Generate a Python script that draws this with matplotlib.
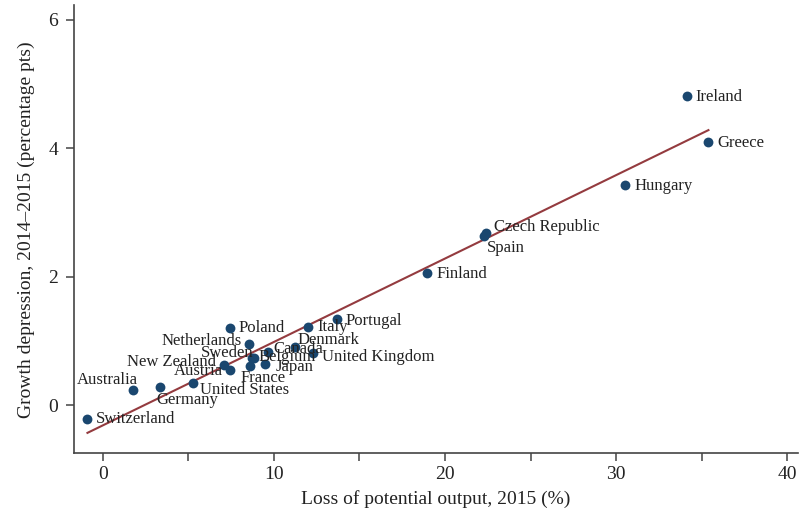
import numpy as np
import matplotlib
matplotlib.use('Agg')
import matplotlib.pyplot as plt

countries = ["Switzerland", "Australia", "Germany", "United States", "New Zealand",
             "Austria", "Poland", "Netherlands", "Sweden", "Belgium", "France",
             "Japan", "Canada", "Denmark", "United Kingdom", "Italy", "Portugal",
             "Finland", "Spain", "Czech Republic", "Hungary", "Greece", "Ireland"]
loss_potential = [-0.89, 1.79, 3.34, 5.29, 7.07,
                  7.46, 7.41, 8.53, 8.75, 8.86, 8.62,
                  9.50, 9.68, 11.25, 12.30, 11.99, 13.69,
                  18.97, 22.27, 22.39, 30.50, 35.39, 34.13]
growth_depression = [-0.22, 0.23, 0.28, 0.35, 0.62,
                     0.55, 1.21, 0.95, 0.73, 0.74, 0.61,
                     0.64, 0.83, 0.91, 0.81, 1.22, 1.35,
                     2.06, 2.63, 2.69, 3.43, 4.10, 4.81]

# label placement: (dx, dy) in pixels, horizontal alignment
label_pos = {
    "Switzerland": (8, 0, "left"),
    "Australia": (5, 10, "right"),
    "Germany": (-3, -13, "left"),
    "United States": (7, -7, "left"),
    "New Zealand": (-8, 3, "right"),
    "Austria": (-8, -1, "right"),
    "Poland": (9, 0, "left"),
    "Netherlands": (-7, 3, "right"),
    "Sweden": (1, 5, "right"),
    "Belgium": (4, 1, "left"),
    "France": (-10, -12, "left"),
    "Japan": (10, -3, "left"),
    "Canada": (5, 3, "left"),
    "Denmark": (2, 7, "left"),
    "United Kingdom": (9, -4, "left"),
    "Italy": (9, 0, "left"),
    "Portugal": (9, -2, "left"),
    "Finland": (9, -1, "left"),
    "Spain": (3, -12, "left"),
    "Czech Republic": (8, 6, "left"),
    "Hungary": (10, -1, "left"),
    "Greece": (9, -1, "left"),
    "Ireland": (9, -1, "left"),
}

plt.rcParams['font.family'] = ['Liberation Serif', 'DejaVu Serif']

x = np.array(loss_potential)
y = np.array(growth_depression)

fig = plt.figure(figsize=(8, 5.17), dpi=100)
ax = fig.add_axes([0.092, 0.123, 0.905, 0.867])

slope, intercept = np.polyfit(x, y, 1)
xs = np.array([x.min(), x.max()])
ax.plot(xs, intercept + slope * xs, color="#943b3f", linewidth=1.5, zorder=2)

ax.scatter(x, y, s=50, color="#1a476f", zorder=3, linewidths=0)

for name, xi, yi in zip(countries, x, y):
    dx, dy, ha = label_pos[name]
    ax.annotate(name, (xi, yi), xytext=(dx, dy), textcoords="offset pixels",
                ha=ha, va="center", fontsize=12, color="#222222", zorder=4)

ax.set_xlim(-1.7, 40.6)
ax.set_ylim(-0.75, 6.23)
ax.set_xticks([0, 10, 20, 30, 40])
ax.set_xticks([5, 15, 25, 35], minor=True)
ax.set_yticks([0, 2, 4, 6])

for s in ["top", "right"]:
    ax.spines[s].set_visible(False)
for s in ["left", "bottom"]:
    ax.spines[s].set_color("#444444")
    ax.spines[s].set_linewidth(1.2)

ax.tick_params(axis="both", which="both", direction="out", length=6,
               width=1.1, color="#444444", labelsize=14, labelcolor="#222222")
ax.tick_params(axis="x", pad=3)
ax.tick_params(axis="y", pad=5)

ax.set_xlabel("Loss of potential output, 2015 (%)", fontsize=14, color="#222222", labelpad=5)
ax.set_ylabel("Growth depression, 2014\u20132015 (percentage pts)", fontsize=14,
              color="#222222", labelpad=10)

fig.savefig("out.png", dpi=100)
